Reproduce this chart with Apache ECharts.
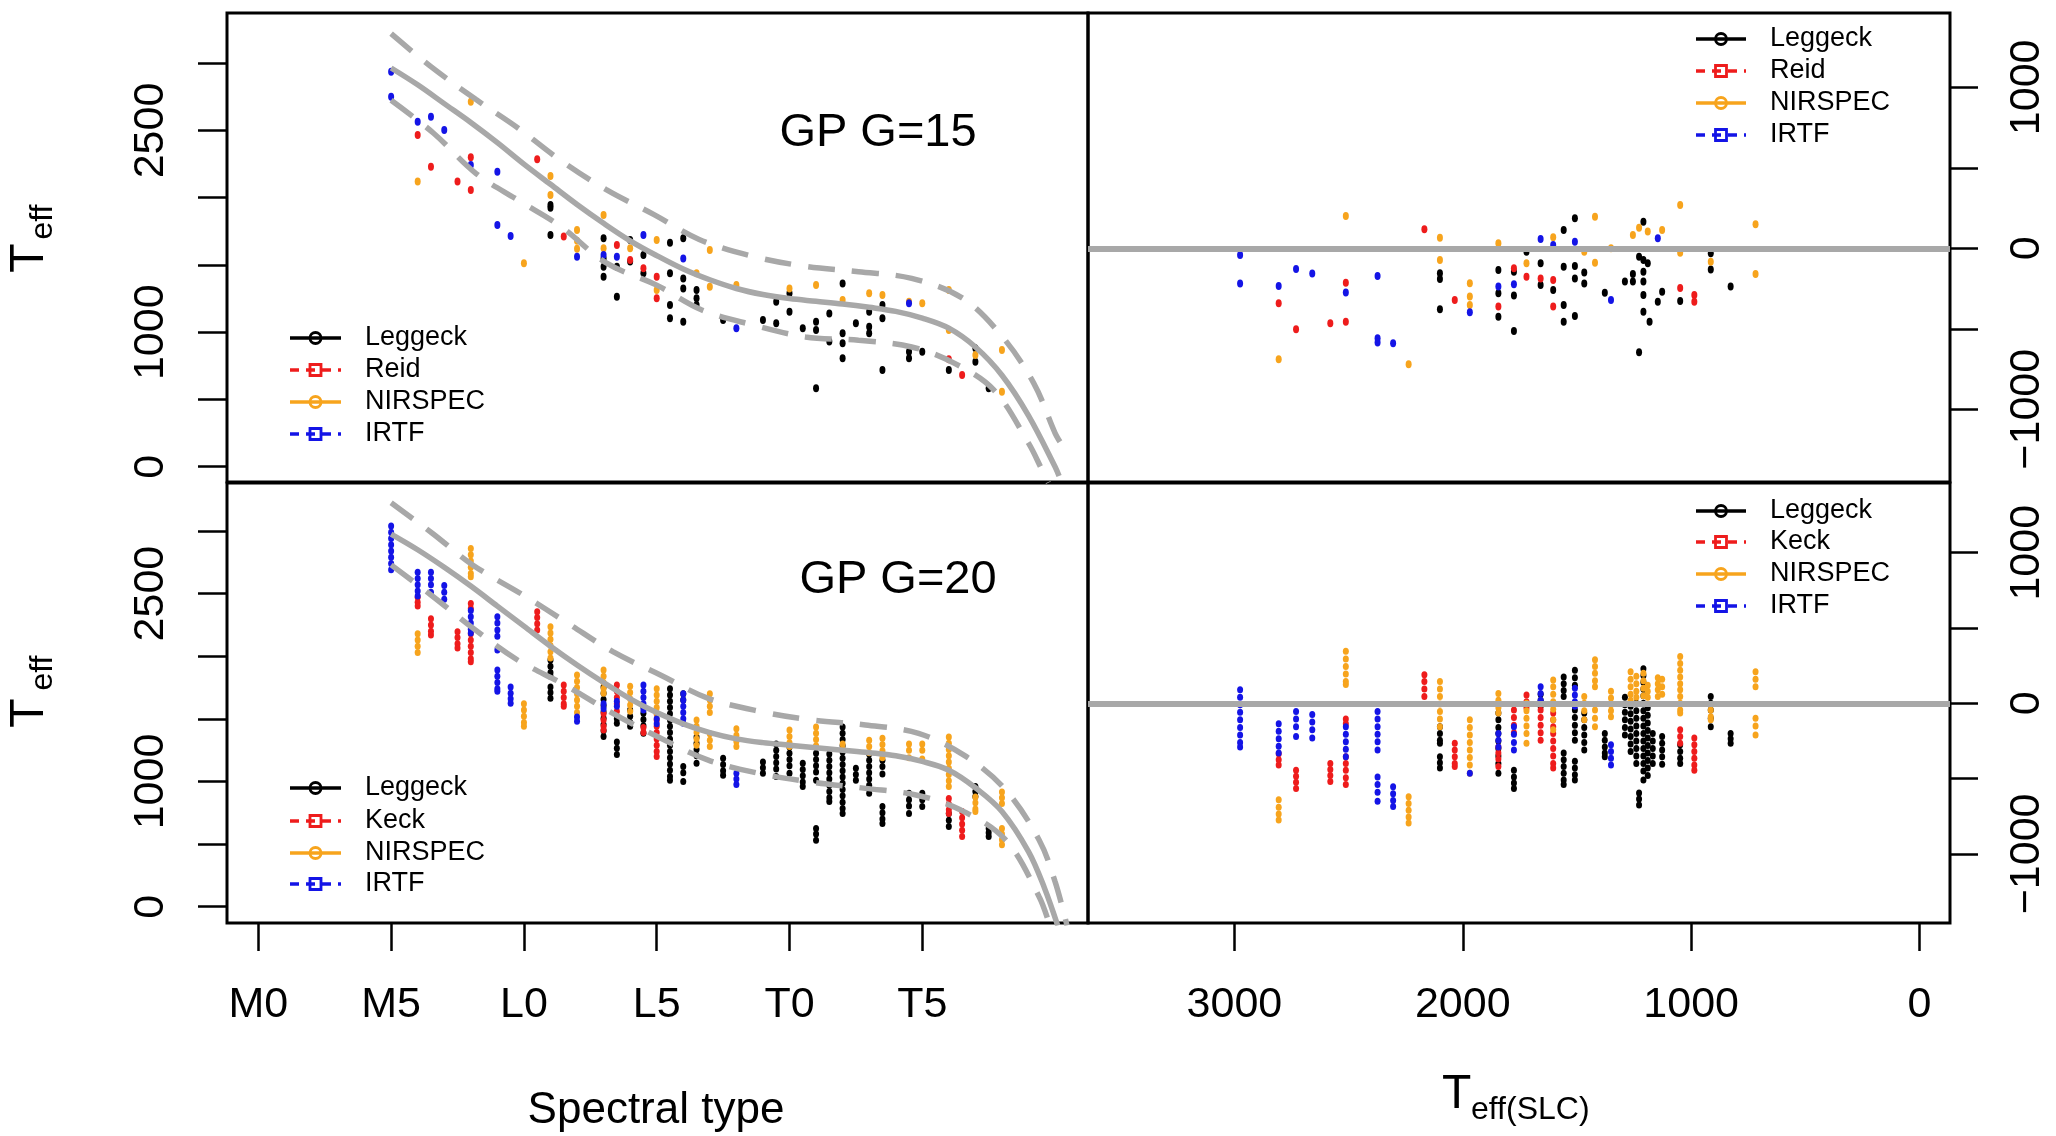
<!DOCTYPE html>
<html><head><meta charset="utf-8">
<script src="https://cdn.jsdelivr.net/npm/echarts@6/dist/echarts.min.js"></script>
<style>html,body{margin:0;padding:0;background:#fff}#c{width:2056px;height:1136px}</style>
</head><body><div id="c"></div>
<script>
// ---------- tick labels ----------
const specTickVals = [0, 5, 10, 15, 20, 25];
const specTickLabels = ['M0', 'M5', 'L0', 'L5', 'T0', 'T5'];
const teffTickVals = [0, 500, 1000, 1500, 2000, 2500, 3000];
const teffLabelVals = [0, 1000, 2500];
const resTickVals = [-1000, -500, 0, 500, 1000];
const resLabelVals = [-1000, 0, 1000];
const slcTickVals = [0, 1000, 2000, 3000];
const topNames = ['Leggeck', 'Reid', 'NIRSPEC', 'IRTF'];
const botNames = ['Leggeck', 'Keck', 'NIRSPEC', 'IRTF'];

// ---------- GP curves (spectral type index, Teff) ----------
const tlMean = [[5,2965],[6,2840],[7,2700],[8,2560],[9,2410],[10,2250],[11,2100],[12,1950],[13,1810],[14,1680],[15,1570],[16,1470],[17,1390],[18,1325],[19,1280],[20,1250],[21,1230],[22,1210],[23,1185],[24,1155],[25,1105],[26,1030],[27,890],[28,680],[29,380],[30,0],[30.15,-70]];
const tlUpper = [[5,3220],[6.5,2975],[8.2,2730],[9.8,2515],[11.3,2290],[13.1,2060],[14.9,1875],[16.6,1690],[18.6,1565],[20.6,1490],[22.6,1450],[24.6,1400],[26.5,1255],[28,970],[29.2,620],[30,250],[30.2,180]];
const tlLower = [[5,2725],[6.6,2480],[8.2,2180],[9.8,1980],[11.4,1785],[13.1,1515],[15,1350],[16.7,1165],[18.6,1055],[20.6,965],[22.6,940],[24.6,890],[26.2,770],[27.7,570],[29,175],[29.5,-20],[29.75,-120]];
const blMean = [[5,2975],[6,2850],[7,2710],[8,2560],[9,2400],[10,2240],[11,2080],[12,1930],[13,1790],[14,1660],[15,1550],[16,1460],[17,1390],[18,1340],[19,1310],[20,1290],[21,1270],[22,1250],[23,1230],[24,1205],[25,1160],[26,1090],[27,950],[28,760],[29,440],[29.6,150],[30.1,-150]];
const blUpper = [[5,3225],[6.55,2982],[8.07,2729],[9.97,2489],[11.66,2263],[13.35,2036],[15.14,1850],[16.94,1664],[18.95,1557],[20.85,1491],[22.86,1451],[24.86,1384],[26.66,1198],[28.14,932],[29.4,533],[30,200],[30.45,-150]];
const blLower = [[5,2729],[6.5,2489],[8.17,2210],[9.76,1970],[11.55,1770],[13.35,1544],[15.04,1357],[16.94,1171],[18.84,1065],[20.74,998],[22.86,945],[24.76,892],[26.45,772],[28.14,533],[29.4,80],[29.8,-150]];

// ---------- points: [x, [y values]] ----------
// top-left: spectral type vs Teff (G=15)
const tlLeggeck = [[11,[1946,1925,1723]],[13,[1698,1549,1487,1413]],[13.5,[1487,1264]],[14,[1686,1525]],[14.5,[1574,1438]],[15.5,[1666,1438,1202,1103]],[16,[1698,1400,1326,1078]],[16.5,[1314,1252,1202]],[17.5,[1091]],[19,[1091]],[19.5,[1227,1066]],[20,[1289,1153]],[20.5,[1029]],[21,[1078,1016,583]],[21.5,[1140,930]],[22,[1363,992,917,806]],[22.5,[1066]],[23,[1153,1041,992]],[23.5,[1202,1103,719]],[24.5,[855,806]],[25,[855]],[26,[719]],[27,[880,781]],[27.5,[583]]];
const tlReid = [[6,[2467]],[6.5,[2231]],[7.5,[2120]],[8,[2301,2058]],[10.5,[2286]],[11.5,[1711]],[13.5,[1649]],[14,[1537]],[14.5,[1475]],[15,[1413,1252]],[26,[798]],[26.5,[682]]];
const tlNIRSPEC = [[6,[2120]],[8,[2714]],[10,[1512]],[11,[2162,2021]],[12,[1760,1680,1620]],[13,[1872,1624]],[14,[1624]],[15,[1686,1314]],[16.5,[1438]],[17,[1611,1339]],[18,[1351]],[20,[1326]],[21,[1351]],[22,[1240]],[23,[1289]],[23.5,[1277]],[24.5,[1227]],[25,[1215]],[26,[1314,1016]],[27,[830]],[28,[868,558]]];
const tlIRTF = [[5,[2938,2752]],[6,[2566]],[6.5,[2603]],[7,[2504]],[8,[2243]],[9,[2194,1797]],[9.5,[1716]],[12,[1562]],[13,[1574]],[13.5,[1562]],[14.5,[1723]],[16,[1549]],[18,[1029]],[24.5,[1215]]];
// top-right: Teff(SLC) vs residual (G=15)
const trLeggeck = [[2100,[-155,-190,-379]],[1844,[-135,-280,-425]],[1776,[-145,-294,-514]],[1721,[-21]],[1659,[-93,-228]],[1604,[-259]],[1558,[113,-114,-352,-456]],[1509,[186,-110,-187,-421]],[1468,[-151,-218]],[1378,[-276]],[1290,[-207]],[1255,[-207,-160]],[1228,[-52,-646]],[1209,[165,-72,-145,-207,-290,-394]],[1190,[-93]],[1182,[-456]],[1146,[-332]],[1127,[-270]],[1048,[-327]],[914,[-31,-131]],[827,[-238]]];
const trReid = [[2806,[-342]],[2730,[-503]],[2580,[-466]],[2512,[-214,-456]],[2168,[118]],[2035,[-321]],[1844,[-362]],[1776,[-124]],[1721,[-176]],[1659,[-187]],[1604,[-197,-362]],[1048,[-247]],[986,[-290,-332]]];
const trNIRSPEC = [[2806,[-690]],[2512,[201]],[2237,[-721]],[2100,[66,-72]],[1969,[-217,-300,-352]],[1844,[31]],[1721,[-93]],[1604,[68]],[1468,[-21]],[1421,[196,-89]],[1351,[0]],[1255,[83]],[1228,[128]],[1190,[104]],[1127,[114]],[1048,[269,-27]],[914,[-83]],[718,[149,-160]]];
const trIRTF = [[2975,[-42,-218]],[2806,[-234]],[2730,[-129]],[2659,[-156]],[2512,[-274]],[2373,[-172,-559,-586]],[2305,[-590]],[1969,[-398]],[1844,[-238]],[1776,[-224]],[1659,[58]],[1604,[20]],[1509,[41]],[1351,[-321]],[1146,[62]]];
// bottom-left: spectral type vs Teff (G=20)
const blLeggeck = [[11,[1970,1920,1870,1840,1755,1710,1665]],[13,[1755,1705,1655,1605,1555,1505,1455,1405,1360]],[13.5,[1500,1465,1315,1265,1215]],[14,[1570,1520,1470,1440]],[14.5,[1595,1545,1495,1445,1385]],[15.5,[1740,1690,1640,1590,1540,1490,1440,1390,1340,1290,1240,1190,1140,1090,1040,1010]],[16,[1700,1650,1120,1070,1000]],[16.5,[1355,1305,1255,1205,1145]],[17.5,[1185,1135,1085,1050]],[19,[1155,1110,1065]],[19.5,[1300,1250,1200,1150,1100,1040]],[20,[1275,1225,1175,1125,1065]],[20.5,[1145,1095,1045,995,960]],[21,[1275,1225,1175,1125,1075,1010,625,580,530]],[21.5,[1220,1170,1120,1070,1020,970,920,870,840]],[22,[1435,1385,1335,1285,1235,1185,1135,1085,1035,985,935,885,835,785,745]],[22.5,[1105,1055,1010]],[23,[1220,1170,1120,1070,1020,970,905]],[23.5,[1170,1120,1060,800,750,700,665]],[24.5,[905,855,805,745]],[25,[905,855,800]],[26,[745,690,640]],[27,[960,920,880]],[27.5,[625,590,560]]];
const blKeck = [[6,[2470,2430,2400]],[6.5,[2300,2250,2200,2170]],[7.5,[2195,2150,2100,2065]],[8,[2420,2380,2180,2130,2080,2030,1980,1955]],[10.5,[2355,2310,2260,2210]],[11.5,[1770,1720,1670,1620,1600]],[13,[1540,1490,1440,1410]],[13.5,[1770,1720,1670,1620,1560]],[14.5,[1430,1390]],[15,[1540,1490,1440,1390,1340,1290,1240,1200]],[26,[865,820,775,745]],[26.5,[760,710,660,610,560]]];
const blNIRSPEC = [[6,[2180,2130,2080,2030]],[8,[2860,2810,2760,2710,2660,2635]],[10,[1620,1570,1520,1470,1440]],[11,[2235,2185,2135,2085,2035,1985]],[12,[1850,1800,1750,1700,1650,1600,1550]],[13,[1890,1840,1790,1740,1705]],[14,[1760,1710,1660,1610,1560]],[15,[1740,1690,1640,1590,1545]],[16.5,[1490,1440,1390,1340,1290]],[17,[1700,1650,1600,1550,1380,1330,1280]],[18,[1420,1370,1320,1280]],[20,[1410,1360,1310,1280]],[21,[1435,1385,1335,1285]],[22,[1300,1260]],[23,[1330,1280,1230]],[23.5,[1345,1295,1245,1190]],[24.5,[1300,1250,1190]],[25,[1300,1250,1180]],[26,[1355,1305,1255,1205,1155,1105,1055,1005,960]],[27,[875,830,780,760]],[28,[915,870,825,625,580,535,495]]];
const blIRTF = [[5,[3040,2990,2940,2890,2840,2790,2740,2690]],[6,[2670,2620,2570,2520,2480]],[6.5,[2670,2620,2570,2510]],[7,[2565,2510,2455]],[8,[2365,2315,2265,2215,2185]],[9,[2315,2265,2210,2160,2050,1890,1840,1790,1740,1720]],[9.5,[1755,1705,1660,1625]],[12,[1515,1480]],[13,[1620,1580]],[13.5,[1640,1600]],[14.5,[1770,1720,1670,1620,1570]],[15,[1500,1460]],[16,[1700,1650,1600,1550,1500,1465]],[18,[1065,1020,975]]];
// bottom-right: Teff(SLC) vs residual (G=20)
const brLeggeck = [[2100,[-155,-200,-245,-265,-355,-395,-430]],[1844,[-65,-110,-160,-200,-250,-300,-350,-400,-465]],[1776,[-445,-490,-530,-565]],[1659,[60,20,-20]],[1558,[175,130,85,45,-330,-375,-420,-465,-510,-540]],[1509,[220,170,120,-45,-95,-145,-195,-245,-385,-430,-475,-510]],[1468,[-65,-110,-160,-210,-260,-310]],[1378,[-200,-245,-290,-330,-355]],[1290,[40,-10,-60,-110,-160,-210]],[1265,[-20,-70,-120,-170,-220,-270,-320]],[1240,[0,-50,-100,-150,-200,-250,-300,-350,-400]],[1228,[-595,-635,-675]],[1209,[230,185,140,95,50,0,-50,-100,-150,-200,-250,-300,-350,-400,-450,-510]],[1190,[-30,-80,-130,-180,-230,-280,-330,-380,-430,-480]],[1168,[-200,-250,-300,-350,-400]],[1127,[-220,-265,-310,-355,-405]],[1048,[-275,-320,-365,-400]],[914,[45,0,-45,-100,-155]],[827,[-200,-235,-265]]];
const brKeck = [[2806,[-335,-375,-410]],[2730,[-445,-485,-525,-565]],[2580,[-400,-440,-480,-520]],[2512,[-105,-135,-355,-400,-445,-495,-540]],[2168,[190,145,95,45]],[2035,[-265,-310,-355,-400,-420]],[1844,[-290,-330,-370,-420]],[1776,[-45,-95,-145,-195]],[1721,[55,10,-30]],[1659,[-45,-95,-145,-195,-245]],[1604,[-65,-110,-155,-200,-250,-300,-350,-400,-430]],[1048,[-175,-220,-265]],[986,[-230,-275,-320,-365,-410,-445]]];
const brNIRSPEC = [[2806,[-640,-690,-735,-775]],[2512,[345,295,245,195,145,125]],[2237,[-620,-665,-710,-755,-795]],[2100,[145,95,45,-5,-55,-105,-155]],[1969,[-110,-160,-210,-260,-310,-360,-410,-465]],[1844,[65,20,-30,-65]],[1721,[0,-50,-100,-150,-200,-265]],[1604,[155,110,60,10,-40,-110,-175]],[1468,[45,0,-50,-110]],[1421,[290,245,200,150,110,-45,-100,-155]],[1351,[80,35,-10,-50,-90]],[1265,[210,160,110,60,20]],[1240,[180,130,80,40]],[1209,[200,150,100,50]],[1190,[120,80,40]],[1146,[170,130,90,45]],[1127,[160,110,60]],[1048,[310,265,220,175,130,90,45,0,-45,-65]],[914,[-45,-90,-110]],[718,[210,160,110,-100,-150,-210]]];
const brIRTF = [[2975,[90,40,-10,-60,-110,-160,-210,-260,-290]],[2806,[-135,-185,-235,-285,-330]],[2730,[-55,-105,-155,-220]],[2659,[-75,-125,-175,-230]],[2512,[-155,-205,-255,-305,-355]],[2373,[-55,-105,-155,-205,-255,-310,-490,-540,-590,-650]],[2305,[-555,-600,-645,-685]],[1969,[-465]],[1844,[-200,-245,-290]],[1776,[-155,-205,-260,-310]],[1659,[110,65,20]],[1509,[100,55,10,-20]],[1351,[-275,-320,-365,-410]]];

// ---------- styling ----------
const FONT = '"Liberation Sans", Arial, Helvetica, sans-serif';
const COLORS = ['#000000', '#ee1c1c', '#f7a41d', '#1414e6'];
const GRAY = '#a8a8a8';
const expand = g => g.flatMap(([x, ys]) => ys.map(y => [x, y]));

const GRIDS = [
  {left: 227, top: 13, width: 861, height: 469},
  {left: 1088, top: 13, width: 862, height: 469},
  {left: 227, top: 483, width: 861, height: 440},
  {left: 1088, top: 483, width: 862, height: 440}
];
const grid = GRIDS.map(g => Object.assign({show: true, borderColor: '#000', borderWidth: 3, backgroundColor: 'transparent', containLabel: false, outerBoundsMode: 'none'}, g));

const tickStyle = {color: '#000', width: 2.5};
const labelBase = {fontSize: 43, fontFamily: FONT, color: '#000'};
const minusFmt = v => (v < 0 ? '\u2212' + Math.abs(v) : String(v));
const noLine = {show: false, onZero: false};

const SPEC_RANGE = [-1.18, 31.24];
const SLC_RANGE = [-133.5, 3641];
const xAxis = [
  {gridIndex: 0, type: 'value', min: SPEC_RANGE[0], max: SPEC_RANGE[1], show: false, axisLine: noLine},
  {gridIndex: 1, type: 'value', min: SLC_RANGE[0], max: SLC_RANGE[1], inverse: true, show: false, axisLine: noLine},
  {gridIndex: 2, type: 'value', min: SPEC_RANGE[0], max: SPEC_RANGE[1], position: 'bottom',
    axisLine: noLine, splitLine: {show: false},
    axisTick: {show: true, length: 28, lineStyle: tickStyle, customValues: specTickVals},
    axisLabel: Object.assign({show: true, margin: 61, customValues: specTickVals,
      formatter: v => specTickLabels[specTickVals.indexOf(v)]}, labelBase)},
  {gridIndex: 3, type: 'value', min: SLC_RANGE[0], max: SLC_RANGE[1], inverse: true, position: 'bottom',
    axisLine: noLine, splitLine: {show: false},
    axisTick: {show: true, length: 28, lineStyle: tickStyle, customValues: slcTickVals},
    axisLabel: Object.assign({show: true, margin: 61, customValues: slcTickVals, formatter: v => String(v)}, labelBase)}
];
function teffAxis(gi, min, max) {
  return {gridIndex: gi, type: 'value', min, max, position: 'left',
    axisLine: noLine, splitLine: {show: false},
    axisTick: {show: true, length: 29, lineStyle: tickStyle, customValues: teffTickVals},
    axisLabel: Object.assign({show: true, rotate: 90, margin: 54, customValues: teffLabelVals, formatter: v => String(v)}, labelBase)};
}
function resAxis(gi, min, max) {
  return {gridIndex: gi, type: 'value', min, max, position: 'right',
    axisLine: noLine, splitLine: {show: false},
    axisTick: {show: true, length: 28, lineStyle: tickStyle, customValues: resTickVals},
    axisLabel: Object.assign({show: true, rotate: 90, margin: 56, customValues: resLabelVals, formatter: minusFmt}, labelBase)};
}
const yAxis = [teffAxis(0, -114, 3374), resAxis(1, -1452, 1462), teffAxis(2, -130, 3383), resAxis(3, -1459, 1463)];

function sc(name, groups, color, idx, size) {
  return {type: 'scatter', name, xAxisIndex: idx, yAxisIndex: idx, data: expand(groups),
    symbol: 'circle', symbolSize: size, itemStyle: {color, opacity: 1}, z: 2, silent: true, animation: false};
}
function ln(data, idx, dashed) {
  return {type: 'line', xAxisIndex: idx, yAxisIndex: idx, data, smooth: 0.35, showSymbol: false, symbol: 'none',
    lineStyle: {color: GRAY, width: 5.5, type: dashed ? [27, 17] : 'solid', cap: 'butt'}, z: 4, silent: true, animation: false, clip: true};
}
function zeroLine(idx) {
  return {type: 'line', xAxisIndex: idx, yAxisIndex: idx, data: [], z: 5, silent: true, animation: false,
    markLine: {silent: true, symbol: ['none', 'none'], label: {show: false}, animation: false,
      lineStyle: {color: GRAY, width: 6, type: 'solid'}, data: [{yAxis: 0}]}};
}

const series = [];
[[tlLeggeck, tlReid, tlNIRSPEC, tlIRTF, topNames, 0, [6, 8]],
 [trLeggeck, trReid, trNIRSPEC, trIRTF, topNames, 1, [6, 8]],
 [blLeggeck, blKeck, blNIRSPEC, blIRTF, botNames, 2, [6, 7]],
 [brLeggeck, brKeck, brNIRSPEC, brIRTF, botNames, 3, [6, 7]]].forEach(p => {
  for (let k = 0; k < 4; k++) series.push(sc(p[4][k], p[k], COLORS[k], p[5], p[6]));
});
series.push(ln(tlMean, 0, false), ln(tlUpper, 0, true), ln(tlLower, 0, true));
series.push(ln(blMean, 2, false), ln(blUpper, 2, true), ln(blLower, 2, true));
series.push(zeroLine(1), zeroLine(3));

// ---------- graphic: legends, titles ----------
const graphic = [];
function txt(x, y, text, size, extra) {
  return Object.assign({type: 'text', x, y, silent: true, z: 100,
    style: Object.assign({text, fontSize: size, fontFamily: FONT, fill: '#000', align: 'center', verticalAlign: 'middle'}, (extra && extra.style) || {})},
    extra ? {rotation: extra.rotation || 0} : {});
}
const LEG = [
  {x1: 290, x2: 341, tx: 365, ys: [338, 370, 402, 434], names: topNames},
  {x1: 1696, x2: 1746, tx: 1770, ys: [39, 71, 103, 135], names: topNames},
  {x1: 290, x2: 341, tx: 365, ys: [788, 821, 853, 884], names: botNames},
  {x1: 1696, x2: 1746, tx: 1770, ys: [511, 542, 574, 606], names: botNames}
];
LEG.forEach(L => {
  L.names.forEach((nm, k) => {
    const y = L.ys[k], c = COLORS[k], dashed = (k % 2 === 1), cx = (L.x1 + L.x2) / 2;
    graphic.push({type: 'line', silent: true, z: 100, shape: {x1: L.x1, y1: y, x2: L.x2, y2: y},
      style: {stroke: c, lineWidth: 3.5, lineDash: dashed ? [9, 7] : null}});
    if (dashed) graphic.push({type: 'rect', silent: true, z: 101, shape: {x: cx - 5.5, y: y - 5.5, width: 11, height: 11},
      style: {fill: 'transparent', stroke: c, lineWidth: 2.8}});
    else graphic.push({type: 'circle', silent: true, z: 101, shape: {cx, cy: y, r: 5.5},
      style: {fill: 'transparent', stroke: c, lineWidth: 2.8}});
    graphic.push(txt(L.tx, y, nm, 27, {style: {align: 'left'}}));
  });
});
graphic.push(txt(878, 133, 'GP G=15', 47));
graphic.push(txt(898, 580, 'GP G=20', 47));
graphic.push(txt(656, 1111, 'Spectral type', 44));
// x title of right panels: T_eff(SLC)
graphic.push(txt(1442, 1095, 'T', 48, {style: {align: 'left'}}));
graphic.push(txt(1471, 1110, 'eff(SLC)', 32, {style: {align: 'left'}}));
// y titles of left panels (rotated)
[[258, 222], [713, 673]].forEach(([yT, yS]) => {
  graphic.push(txt(30, yT, 'T', 48, {rotation: Math.PI / 2}));
  graphic.push(txt(43, yS, 'eff', 32, {rotation: Math.PI / 2}));
});

const chart = echarts.init(document.getElementById('c'), null, {renderer: 'canvas'});
chart.setOption({
  backgroundColor: '#ffffff',
  animation: false,
  grid, xAxis, yAxis, series, graphic
});
</script></body></html>
